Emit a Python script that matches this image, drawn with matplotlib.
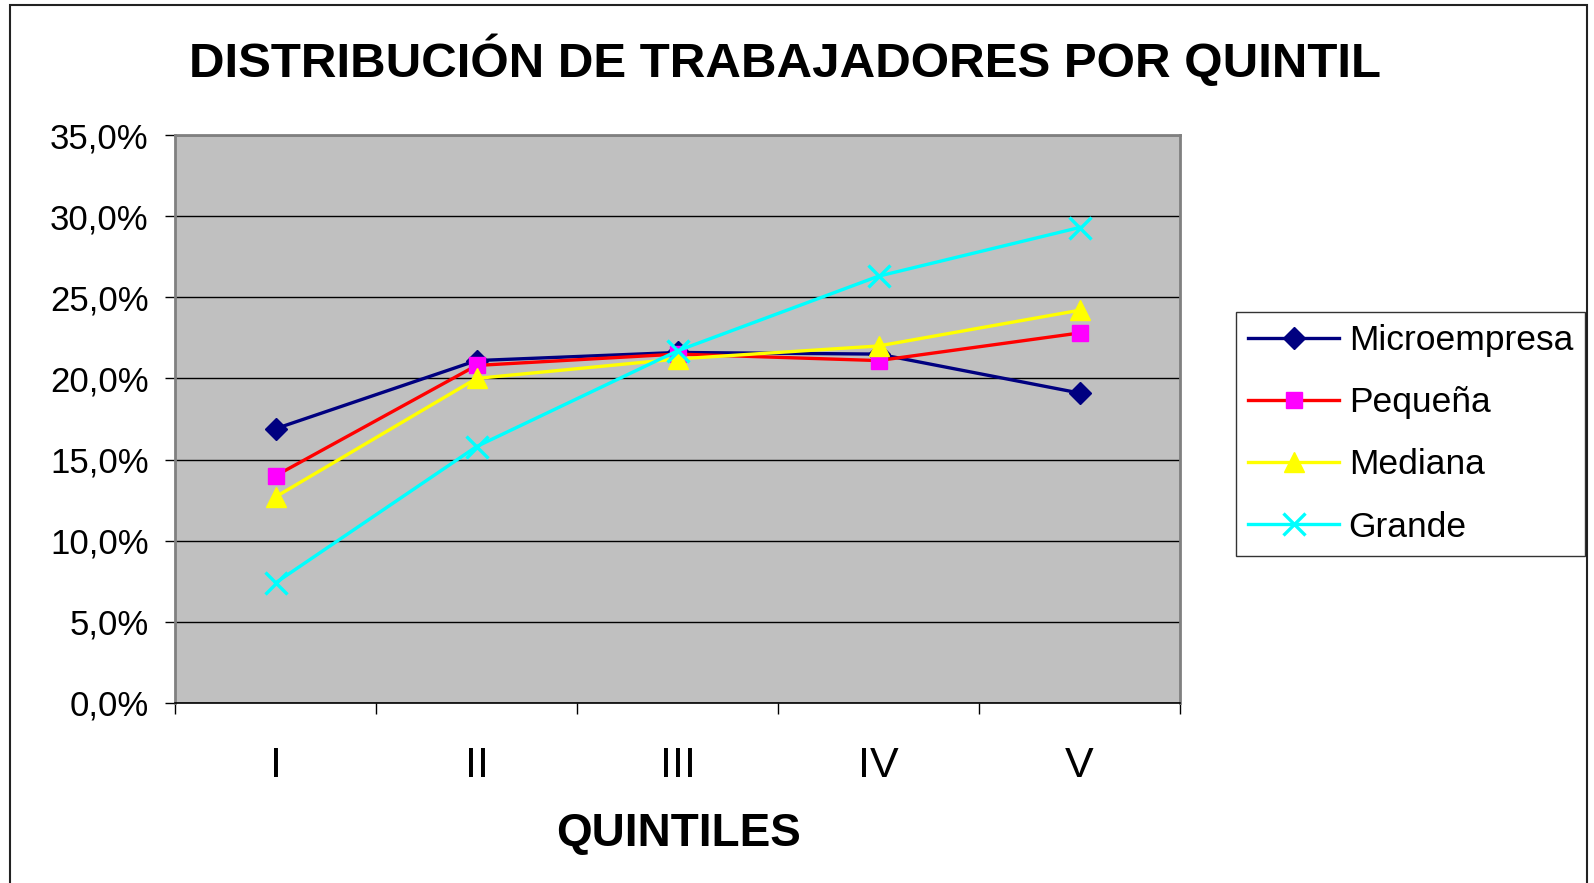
import matplotlib
matplotlib.use("Agg")
import matplotlib.pyplot as plt
from matplotlib.patches import Rectangle
from matplotlib.ticker import FixedLocator, FuncFormatter

plt.rcParams['font.family'] = ['Liberation Sans', 'DejaVu Sans']

categories = ["I", "II", "III", "IV", "V"]
microempresa = [16.9, 21.1, 21.6, 21.5, 19.1]
pequena = [14.0, 20.8, 21.5, 21.1, 22.8]
mediana = [12.7, 20.0, 21.2, 22.0, 24.2]
grande = [7.4, 15.8, 21.7, 26.3, 29.3]
yticks = [0, 5, 10, 15, 20, 25, 30, 35]

W, H = 1594, 883
fig = plt.figure(figsize=(W / 100, H / 100), dpi=100)
fig.patch.set_facecolor("white")

ax = fig.add_axes([175 / W, 1 - 703 / H, 1005 / W, 568 / H])
ax.set_facecolor("#C0C0C0")

xs = [i + 0.5 for i in range(len(categories))]
l1, = ax.plot(xs, microempresa, color="#000080", lw=2.4, marker="D", ms=11,
              mfc="#000080", mec="#000080", label="Microempresa", zorder=5)
l2, = ax.plot(xs, pequena, color="#FF0000", lw=2.4, marker="s", ms=12,
              mfc="#FF00FF", mec="#FF00FF", label="Pequeña", zorder=5)
l3, = ax.plot(xs, mediana, color="#FFFF00", lw=2.4, marker="^", ms=15,
              mfc="#FFFF00", mec="#FFFF00", label="Mediana", zorder=5)
l4, = ax.plot(xs, grande, color="#00FFFF", lw=2.4, marker="x", ms=16, mew=2.4,
              mfc="#00FFFF", mec="#00FFFF", label="Grande", zorder=5)

ax.set_xlim(0, len(categories))
ax.set_ylim(0, 35)
ax.set_yticks(yticks)
ax.yaxis.set_major_formatter(FuncFormatter(lambda v, p: f"{v:.1f}%".replace(".", ",")))
ax.grid(axis="y", color="black", lw=1.0)
ax.set_axisbelow(True)

ax.xaxis.set_major_locator(FixedLocator(list(range(len(categories) + 1))))
ax.xaxis.set_major_formatter(FuncFormatter(lambda v, p: ""))
ax.xaxis.set_minor_locator(FixedLocator(xs))
ax.set_xticklabels(categories, minor=True)
ax.tick_params(axis="x", which="major", direction="out", length=8, width=1, color="black")
ax.tick_params(axis="x", which="minor", length=0, pad=31, labelsize=31)
ax.tick_params(axis="y", direction="out", length=7, width=1, color="black", pad=12, labelsize=25)

for side in ["left", "top", "right"]:
    ax.spines[side].set_color("#808080")
    ax.spines[side].set_linewidth(2)
ax.spines["bottom"].set_color("black")
ax.spines["bottom"].set_linewidth(1.2)

fig.text(785 / W, 1 - 77 / H, "DISTRIBUCIÓN DE TRABAJADORES POR QUINTIL",
         ha="center", va="baseline", fontsize=35.5, fontweight="bold")
fig.text(678 / W, 1 - 834 / H, "QUINTILES", ha="center", va="center",
         fontsize=33, fontweight="bold")

leg = fig.legend(handles=[l1, l2, l3, l4], loc="upper left",
                 bbox_to_anchor=(1236 / W, 1 - 312 / H), fontsize=25.5,
                 frameon=True, fancybox=False, edgecolor="black",
                 handlelength=2.55, labelspacing=0.82, borderpad=0.35,
                 handletextpad=0.28, borderaxespad=0)
leg.get_frame().set_linewidth(1.0)

fig.patches.append(Rectangle((10 / W, -0.05), 1577 / W, 1.05 - 5 / H,
                             transform=fig.transFigure, fill=False,
                             edgecolor="#222222", lw=1.5))

fig.savefig("out.png", dpi=100)
